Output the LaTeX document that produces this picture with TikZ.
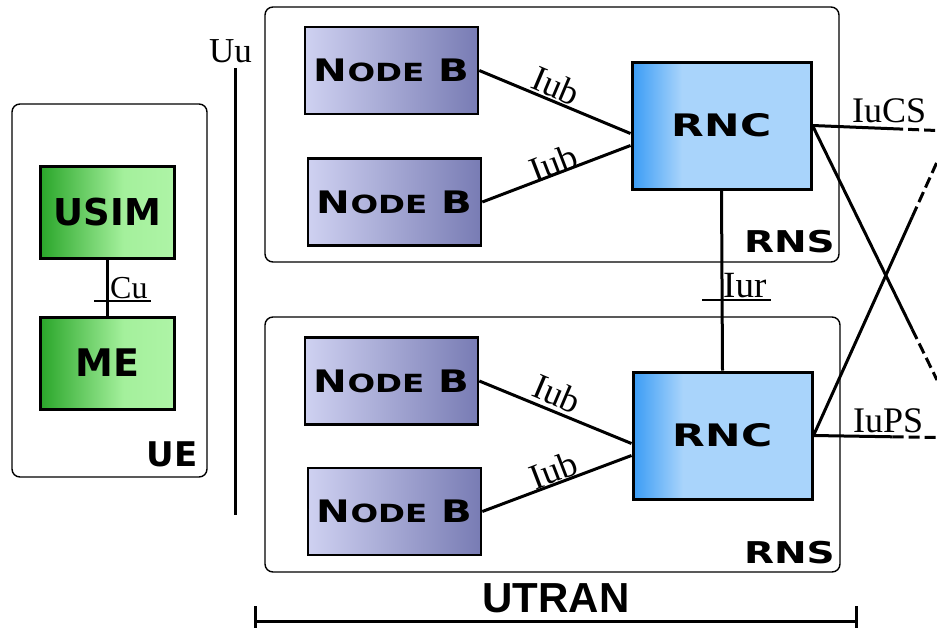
\documentclass[tikz,border=0pt]{standalone}
\usepackage{fontspec}
\usepackage{graphicx}
\setmainfont{Liberation Serif}
\newfontfamily\boxfont{DejaVu Sans}
\newfontfamily\utranfont{Liberation Sans}
\usetikzlibrary{calc}
\definecolor{rncA}{HTML}{3A9CF5}
\definecolor{rncB}{HTML}{A9D4FB}
\definecolor{grA}{HTML}{2AA62A}
\definecolor{grB}{HTML}{A4F09C}
\definecolor{grC}{HTML}{AEF4A6}
\definecolor{nbA}{HTML}{CFD1F1}
\definecolor{nbB}{HTML}{787CB4}
\pgfdeclarehorizontalshading{rncshade}{100bp}{color(0bp)=(rncA); color(25bp)=(rncA); color(39bp)=(rncB); color(75bp)=(rncB); color(100bp)=(rncB)}
\pgfdeclarehorizontalshading{greenshade}{100bp}{color(0bp)=(grA); color(25bp)=(grA); color(56bp)=(grB); color(75bp)=(grC); color(100bp)=(grC)}
\newcommand{\nodeBtext}{\scalebox{1.3}[1]{\boxfont\bfseries\fontsize{31}{31}\selectfont N\fontsize{25}{25}\selectfont ODE\fontsize{31}{31}\selectfont\ B}}
\begin{document}
\begin{tikzpicture}[x=1pt,y=-1pt,
  container/.style={draw, line width=1.4pt, rounded corners=8pt, inner sep=0pt},
  nodeb/.style={draw, line width=2.6pt, minimum width=173pt, minimum height=87pt, left color=nbA, right color=nbB, inner sep=0pt},
  rncbox/.style={draw, line width=3pt, minimum width=179pt, minimum height=127pt, shade, shading=rncshade, inner sep=0pt,
     font=\boxfont\bfseries\fontsize{31}{31}\selectfont},
  uebox/.style={draw, line width=3pt, minimum width=134pt, minimum height=92pt, shade, shading=greenshade, inner sep=0pt},
  link/.style={line width=3pt},
  dashlink/.style={line width=3pt, dash pattern=on 11pt off 5pt},
  thinline/.style={line width=1.5pt},
  lbl/.style={font=\fontsize{36}{36}\selectfont, inner sep=0pt},
  boldlbl/.style={font=\boxfont\bfseries\fontsize{30}{30}\selectfont, inner sep=0pt}
]
\useasboundingbox (0,0) rectangle (937,627);

% UE
\node[container, minimum width=195pt, minimum height=373pt] (ue) at (109.5,290.5) {};
\node[uebox, font=\boxfont\bfseries\fontsize{37}{37}\selectfont] (usim) at (107.5,212) {USIM};
\node[uebox, font=\boxfont\bfseries\fontsize{38}{38}\selectfont] (me) at (107.5,363) {ME};
\node[boldlbl, font=\boxfont\bfseries\fontsize{34}{34}\selectfont, anchor=base east] (uelbl) at (198,466) {UE};
\draw[link] (usim.south) -- (me.north);
\node[lbl, font=\fontsize{32}{32}\selectfont, anchor=base west] (cu) at (110,298) {Cu};
\coordinate (cuA) at (94,301);
\coordinate (cuB) at (151,301);
\draw[thinline] (cuA) -- (cuB);

% Uu
\coordinate (uuTop) at (235,68);
\coordinate (uuBot) at (235,515);
\draw[link] (uuTop) -- (uuBot);
\node[lbl, font=\fontsize{35}{35}\selectfont, anchor=base west] (uu) at (209,62) {Uu};

% RNS containers
\node[container, minimum width=574pt, minimum height=255pt] (rns1) at (552,134.5) {};
\node[container, minimum width=575pt, minimum height=255pt] (rns2) at (552.5,444.5) {};
\node[boldlbl, anchor=base east] (rns1lbl) at (835,252) {\scalebox{1.3}[1]{RNS}};
\node[boldlbl, anchor=base east] (rns2lbl) at (835,563) {\scalebox{1.3}[1]{RNS}};

% Node Bs
\node[nodeb] (nb1) at (391.5,70.5) {\nodeBtext};
\node[nodeb] (nb2) at (394.5,202) {\nodeBtext};
\node[nodeb] (nb3) at (391.5,381) {\nodeBtext};
\node[nodeb] (nb4) at (394.5,511.5) {\nodeBtext};

% RNCs
\node[rncbox] (rnc1) at (721.5,125.5) {\scalebox{1.37}[1]{RNC}};
\node[rncbox] (rnc2) at (722.5,435.5) {\scalebox{1.37}[1]{RNC}};

% Iub links
\draw[link] (nb1.east) -- ($(rnc1.west)+(0,8)$);
\draw[link] (nb2.east) -- ($(rnc1.west)+(0,20)$);
\draw[link] (nb3.east) -- ($(rnc2.west)+(0,8)$);
\draw[link] (nb4.east) -- ($(rnc2.west)+(0,20)$);
\node[lbl, rotate=-23] (iub1) at (556,86) {Iub};
\node[lbl, rotate=21] (iub2) at (553,163) {Iub};
\node[lbl, rotate=-23] (iub3) at (557,394) {Iub};
\node[lbl, rotate=21] (iub4) at (553,470) {Iub};

% Iur
\draw[link] (rnc1.south) -- (rnc2.north);
\node[lbl, font=\fontsize{37}{37}\selectfont, anchor=base west] (iur) at (723,297) {Iur};
\coordinate (iurA) at (702,300);
\coordinate (iurB) at (771,300);
\draw[thinline] (iurA) -- (iurB);

% Iu links
\coordinate (csEnd) at (937,130.5);
\coordinate (psEnd) at (937,437.5);
\coordinate (aEnd) at (937,380);
\coordinate (bEnd) at (937,162);
\draw[link] (rnc1.east) -- ($(rnc1.east)!0.64!(csEnd)$) coordinate (csM);
\draw[dashlink] (csM) -- (csEnd);
\draw[link] (rnc2.east) -- ($(rnc2.east)!0.64!(psEnd)$) coordinate (psM);
\draw[dashlink] (psM) -- (psEnd);
\draw[link] (rnc1.east) -- ($(rnc1.east)!0.8!(aEnd)$) coordinate (aM);
\draw[dashlink] (aM) -- (aEnd);
\draw[link] (rnc2.east) -- ($(rnc2.east)!0.8!(bEnd)$) coordinate (bM);
\draw[dashlink] (bM) -- (bEnd);
\node[lbl, anchor=base west] (iucs) at (852,122) {IuCS};
\node[lbl, anchor=base west] (iups) at (853,432) {IuPS};

% UTRAN bracket
\coordinate (brL) at (255,621);
\coordinate (brR) at (856,621);
\draw[link] (brL) -- (brR);
\draw[link] ($(brL)+(0,-15)$) -- ($(brL)+(0,8)$);
\draw[link] ($(brR)+(0,-15)$) -- ($(brR)+(0,8)$);
\node[inner sep=0pt, font=\utranfont\bfseries\fontsize{42}{42}\selectfont, anchor=base] (utran) at (556,612) {UTRAN};
\end{tikzpicture}
\end{document}
